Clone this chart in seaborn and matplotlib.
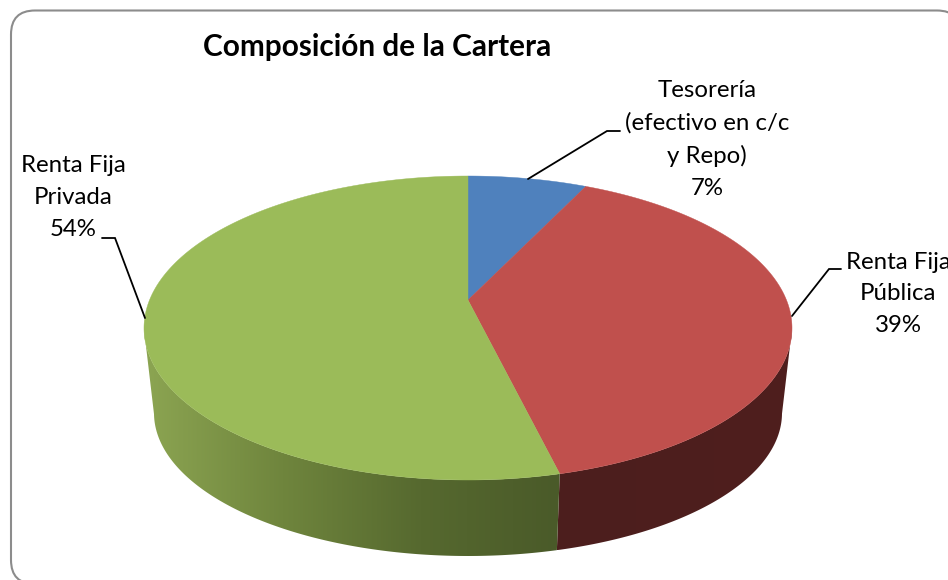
import numpy as np
import seaborn as sns
from matplotlib import pyplot as plt
from matplotlib.patches import FancyBboxPatch, Polygon

categorias = ["Tesorería\n(efectivo en c/c\ny Repo)", "Renta Fija\nPública", "Renta Fija\nPrivada"]
valores = [7.1, 39.1, 53.8]
colores = ["#4F81BD", "#C0504D", "#9BBB59"]

sns.set_theme(style="white")
plt.rcParams["font.family"] = ["Lato", "DejaVu Sans"]

# Geometria de la tarta en pixeles de la imagen
TAPA = (468, 328, 324, 152)
BASE = (468, 413, 314, 143)
PERSPECTIVA = 0.184


def proyecta(theta, elipse):
    # Circulo en perspectiva: el centro de la tarta no cae en el centro de la elipse
    cx, cy, rx, ry = elipse
    u, v = np.sin(theta), np.cos(theta)
    den = 1 + PERSPECTIVA * v
    w = (v + PERSPECTIVA) / den
    x = cx + rx * u * np.sqrt(1 - PERSPECTIVA**2) / den
    y = cy - ry * w
    return x, y, w


fig, ax = plt.subplots(figsize=(9.48, 5.8), dpi=100)
fig.subplots_adjust(0, 0, 1, 1)
ax.set_xlim(0, 948)
ax.set_ylim(580, 0)
ax.axis("off")

# Marco redondeado del grafico
ax.add_patch(FancyBboxPatch((11, 10.5), 950, 573.5, boxstyle="round,pad=0,rounding_size=24",
                            fc="white", ec="#8C8C8C", lw=1.5, zorder=0))

limites = np.cumsum([0] + valores) / sum(valores) * 2 * np.pi
apice = (TAPA[0], TAPA[1] - TAPA[3] * PERSPECTIVA)

# Laterales, solo la parte delantera
degradados = [None,
              sns.blend_palette(["#4C1E1D", "#4F1F1E"], as_cmap=True),
              sns.blend_palette(["#8CA552", "#6F853D", "#56692F", "#4A5A29"], as_cmap=True)]
for i in range(len(valores)):
    theta = np.linspace(limites[i], limites[i + 1], 300)
    xt, yt, w = proyecta(theta, TAPA)
    xb, yb, _ = proyecta(theta, BASE)
    frente = w <= 0
    if not frente.any():
        continue
    puntos = np.column_stack([np.r_[xt[frente], xb[frente][::-1]],
                              np.r_[yt[frente], yb[frente][::-1]]])
    lateral = Polygon(puntos, closed=True, fc="none", ec="none")
    ax.add_patch(lateral)
    extent = (puntos[:, 0].min(), puntos[:, 0].max(), puntos[:, 1].max(), puntos[:, 1].min())
    im = ax.imshow(np.linspace(0, 1, 256)[None, :], cmap=degradados[i], extent=extent,
                   aspect="auto", zorder=1)
    im.set_clip_path(lateral)

ax.set_xlim(0, 948)
ax.set_ylim(580, 0)

# Tapa
for i in range(len(valores)):
    theta = np.linspace(limites[i], limites[i + 1], 300)
    xt, yt, _ = proyecta(theta, TAPA)
    ax.fill(np.r_[apice[0], xt], np.r_[apice[1], yt], color=colores[i], lw=0.3, zorder=2)

# Lineas guia
guias = [([528, 607, 620], [179, 131, 131]),
         ([792, 829, 841], [316, 269, 269]),
         ([102, 115, 145], [238, 238, 318])]
for gx, gy in guias:
    ax.plot(gx, gy, color="black", lw=1.3, zorder=3, solid_joinstyle="miter")

# Etiquetas
posiciones = [(707, 139.5), (898, 294), (73, 197.5)]
for cat, val, (px, py) in zip(categorias, valores, posiciones):
    ax.text(px, py, f"{cat}\n{val:.0f}%", ha="center", va="center", multialignment="center",
            fontsize=17.3, color="black", linespacing=1.62, zorder=4)

ax.text(377, 47, "Composición de la Cartera", ha="center", va="center",
        fontsize=21.4, fontweight="bold", color="black", zorder=4)

fig.savefig("out.png", dpi=100)
